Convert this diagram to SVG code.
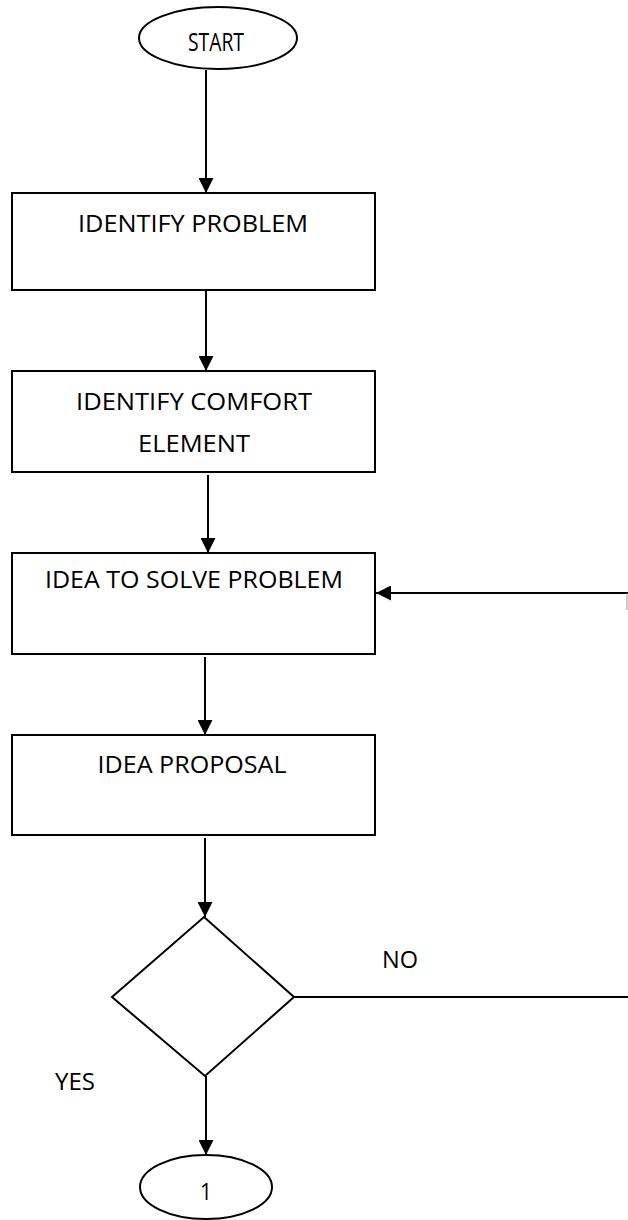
<svg xmlns="http://www.w3.org/2000/svg" width="628" height="1220" viewBox="0 0 628 1220">
<style>
.box{fill:#fff;stroke:#000;stroke-width:2}
.shape{fill:#fff;stroke:#000;stroke-width:2}
.line{fill:none;stroke:#000;stroke-width:2}
text{font-family:"Open Sans","Liberation Sans",sans-serif;font-size:24.5px;fill:#000}
</style>
<defs>
<marker id="arrL" viewBox="0 0 10 10" refX="10" refY="5" markerWidth="15" markerHeight="15" markerUnits="userSpaceOnUse" orient="auto">
<path d="M0,0 L10,5 L0,10 Z" fill="#000"/>
</marker>
</defs>
<g id="connectors">
<line class="line" x1="206" y1="70" x2="206" y2="193" marker-end="url(#arrL)"/>
<line class="line" x1="206" y1="291" x2="206" y2="371" marker-end="url(#arrL)"/>
<line class="line" x1="208" y1="475" x2="208" y2="553" marker-end="url(#arrL)"/>
<line class="line" x1="205" y1="657" x2="205" y2="735" marker-end="url(#arrL)"/>
<line class="line" x1="205" y1="838" x2="205" y2="917" marker-end="url(#arrL)"/>
<line class="line" x1="206" y1="1076" x2="206" y2="1155" marker-end="url(#arrL)"/>
<line class="line" x1="294" y1="997" x2="628" y2="997"/>
<line class="line" x1="628" y1="593" x2="376" y2="593" marker-end="url(#arrL)"/>
<line x1="627" y1="593" x2="627" y2="610" stroke="#999" stroke-width="1"/>
</g>
<g id="start">
<ellipse class="shape" cx="218" cy="38" rx="79" ry="31"/>
<text x="216" y="51" text-anchor="middle" textLength="56" lengthAdjust="spacingAndGlyphs" style="font-size:26px">START</text>
</g>
<g id="identify-problem">
<rect class="box" x="12" y="193" width="363" height="97"/>
<text x="193" y="232" text-anchor="middle" textLength="230" lengthAdjust="spacingAndGlyphs">IDENTIFY PROBLEM</text>
</g>
<g id="identify-comfort">
<rect class="box" x="12" y="371" width="363" height="101"/>
<text x="194" y="410" text-anchor="middle" textLength="236" lengthAdjust="spacingAndGlyphs">IDENTIFY COMFORT</text>
<text x="194" y="452" text-anchor="middle" textLength="112" lengthAdjust="spacingAndGlyphs">ELEMENT</text>
</g>
<g id="idea-solve">
<rect class="box" x="12" y="553" width="363" height="101"/>
<text x="194" y="588" text-anchor="middle" textLength="298" lengthAdjust="spacingAndGlyphs">IDEA TO SOLVE PROBLEM</text>
</g>
<g id="idea-proposal">
<rect class="box" x="12" y="735" width="363" height="100"/>
<text x="192" y="773" text-anchor="middle" textLength="189" lengthAdjust="spacingAndGlyphs">IDEA PROPOSAL</text>
</g>
<g id="decision">
<polygon class="shape" points="204,917 294,997 205,1076 112,997"/>
</g>
<g id="labels">
<text x="382" y="968" textLength="36" lengthAdjust="spacingAndGlyphs">NO</text>
<text x="55" y="1090" textLength="40" lengthAdjust="spacingAndGlyphs">YES</text>
</g>
<g id="connector-1">
<ellipse class="shape" cx="206" cy="1187" rx="66" ry="32"/>
<text x="206" y="1200" text-anchor="middle" textLength="12" lengthAdjust="spacingAndGlyphs">1</text>
</g>
</svg>
